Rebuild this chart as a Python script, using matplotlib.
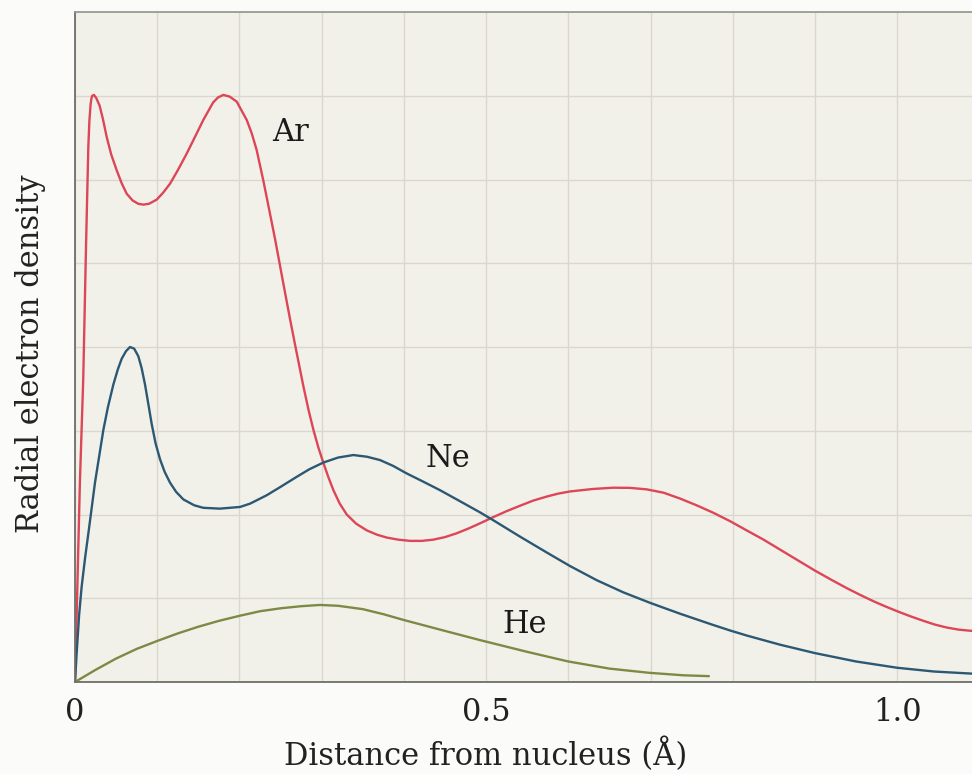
import matplotlib
matplotlib.use('Agg')
import matplotlib.pyplot as plt
import numpy as np

# curves (x in angstrom, y in grid units)
ar_x = [0.000, 0.003, 0.006, 0.010, 0.0134, 0.0162, 0.0175, 0.019, 0.020, 0.021, 0.023, 0.026,
        0.030, 0.034, 0.0385, 0.044, 0.0507, 0.057, 0.0629, 0.070, 0.077, 0.0831, 0.090, 0.0994,
        0.107, 0.1156, 0.125, 0.1359, 0.146, 0.156, 0.168, 0.174, 0.1804, 0.188, 0.1967, 0.2089,
        0.215, 0.221, 0.229, 0.237, 0.2433, 0.249, 0.2545, 0.2616, 0.268, 0.2778, 0.284, 0.290,
        0.296, 0.302, 0.308, 0.3143, 0.322, 0.3305, 0.342, 0.355, 0.367, 0.379, 0.393, 0.4075,
        0.422, 0.436, 0.450, 0.464, 0.478, 0.4927, 0.509, 0.525, 0.5414, 0.557, 0.574, 0.588,
        0.602, 0.630, 0.655, 0.675, 0.6955, 0.716, 0.736, 0.756, 0.7765, 0.7968, 0.817, 0.8374,
        0.8577, 0.878, 0.900, 0.920, 0.9388, 0.955, 0.971, 0.985, 1.000, 1.016, 1.032, 1.046,
        1.0605, 1.075, 1.091]
ar_y = [0.00, 1.20, 2.40, 3.61, 5.20, 6.39, 6.70, 6.90, 6.97, 7.00, 7.01, 6.97,
        6.88, 6.72, 6.51, 6.30, 6.11, 5.95, 5.83, 5.75, 5.71, 5.70, 5.71, 5.76,
        5.84, 5.95, 6.11, 6.31, 6.51, 6.71, 6.92, 6.98, 7.01, 6.99, 6.93, 6.71,
        6.55, 6.35, 5.99, 5.60, 5.29, 4.99, 4.70, 4.33, 4.01, 3.53, 3.25, 3.01,
        2.80, 2.62, 2.45, 2.29, 2.13, 2.00, 1.89, 1.81, 1.76, 1.725, 1.70, 1.685,
        1.685, 1.70, 1.73, 1.775, 1.83, 1.895, 1.97, 2.04, 2.105, 2.165, 2.215, 2.25,
        2.275, 2.305, 2.32, 2.318, 2.30, 2.26, 2.19, 2.11, 2.02, 1.92, 1.81, 1.70,
        1.58, 1.46, 1.33, 1.22, 1.12, 1.04, 0.965, 0.905, 0.845, 0.785, 0.73, 0.685,
        0.65, 0.625, 0.61]

ne_x = [0.000, 0.002, 0.005, 0.0081, 0.0125, 0.017, 0.0243, 0.0345, 0.040, 0.0466, 0.052, 0.0568,
        0.062, 0.0669, 0.072, 0.077, 0.081, 0.0852, 0.089, 0.0933, 0.098, 0.1034, 0.109, 0.1156,
        0.123, 0.1318, 0.145, 0.156, 0.176, 0.2007, 0.213, 0.2332, 0.250, 0.2697, 0.285, 0.302,
        0.320, 0.3386, 0.355, 0.371, 0.387, 0.4035, 0.424, 0.444, 0.468, 0.4927, 0.509, 0.5414,
        0.574, 0.602, 0.6347, 0.667, 0.6995, 0.736, 0.7765, 0.7968, 0.817, 0.8577, 0.900, 0.950,
        1.000, 1.045, 1.091]
ne_y = [0.00, 0.34, 0.80, 1.14, 1.50, 1.83, 2.38, 3.01, 3.28, 3.55, 3.73, 3.86,
        3.95, 4.00, 3.98, 3.89, 3.75, 3.55, 3.33, 3.08, 2.85, 2.66, 2.51, 2.38,
        2.27, 2.18, 2.11, 2.08, 2.07, 2.09, 2.13, 2.23, 2.33, 2.45, 2.54, 2.62,
        2.68, 2.71, 2.69, 2.65, 2.58, 2.49, 2.39, 2.29, 2.16, 2.025, 1.93, 1.735,
        1.545, 1.385, 1.215, 1.07, 0.945, 0.815, 0.68, 0.615, 0.555, 0.445, 0.345, 0.245,
        0.17, 0.125, 0.10]

he_x = [0.000, 0.025, 0.050, 0.075, 0.100, 0.125, 0.150, 0.175, 0.200, 0.225, 0.250, 0.275,
        0.298, 0.320, 0.350, 0.375, 0.400, 0.450, 0.4927, 0.550, 0.600, 0.650, 0.698, 0.740,
        0.771]
he_y = [0.00, 0.145, 0.28, 0.395, 0.49, 0.58, 0.66, 0.73, 0.79, 0.845, 0.88, 0.905,
        0.92, 0.91, 0.87, 0.81, 0.74, 0.61, 0.50, 0.36, 0.245, 0.16, 0.11, 0.08,
        0.07]

x_ticks = [0.0, 0.5, 1.0]
x_ticklabels = ['0', '0.5', '1.0']

plt.rcParams['font.family'] = ['DejaVu Serif']

fig = plt.figure(figsize=(9.72, 7.74), dpi=100, facecolor='#fbfbfa')
ax = fig.add_axes([75/972, 92/774, 1 - 75/972, 670/774])
ax.set_facecolor('#f2f1e9')

for xs, ys, c in [(ar_x, ar_y, '#dc4656'), (ne_x, ne_y, '#2c5873'), (he_x, he_y, '#7d8a45')]:
    ax.plot(xs, ys, color=c, lw=1.7, solid_joinstyle='round', solid_capstyle='round')

ax.text(0.2397, 6.46, 'Ar', fontsize=22, va='baseline', ha='left', color='#1a1a1a')
ax.text(0.4258, 2.57, 'Ne', fontsize=22, va='baseline', ha='left', color='#1a1a1a')
ax.text(0.5200, 0.58, 'He', fontsize=22, va='baseline', ha='left', color='#1a1a1a')

ax.set_xlim(0, 1.091)
ax.set_ylim(0, 8)

# grid every 0.1 A and every y unit, labels only at 0, 0.5, 1.0
ax.set_xticks(np.arange(0, 1.09, 0.1), minor=True)
ax.set_yticks(np.arange(1, 8), minor=True)
ax.set_xticks(x_ticks)
ax.set_xticklabels(x_ticklabels)
ax.set_yticks([])
ax.grid(which='both', color='#d9d7ce', lw=1.0)
ax.set_axisbelow(True)
ax.tick_params(which='both', length=0, labelsize=22, pad=11, colors='#222222')

for s in ['left', 'bottom']:
    ax.spines[s].set_color('#6f6f68')
    ax.spines[s].set_linewidth(1.3)
ax.spines['top'].set_color('#9a9a92')
ax.spines['top'].set_linewidth(1.3)
ax.spines['right'].set_visible(False)

ax.set_xlabel('Distance from nucleus (Å)', fontsize=22, labelpad=7, color='#222222')
ax.set_ylabel('Radial electron density', fontsize=22, labelpad=10, color='#222222')
# the reference centres the x title under 0.5 A and the y title slightly low
ax.xaxis.label.set_x(0.5 / 1.091)
ax.yaxis.label.set_y(0.49)

fig.savefig('out.png', dpi=100, facecolor=fig.get_facecolor())
